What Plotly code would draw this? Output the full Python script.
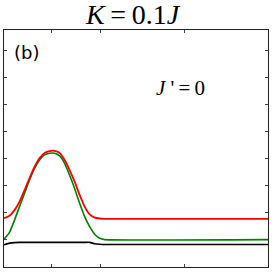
import plotly.graph_objects as go

# k-path coordinate (arbitrary units along the path)
k_path = [0, 5.5, 10.5, 15.5, 20.5, 25.5, 30.5, 35.5, 40.5, 45.5, 50.5, 55.5, 60.5, 65.5,
          70.5, 75.5, 80.5, 85.5, 90.5, 95.5, 100.5, 263.5]
red_vals = [1.80, 1.89, 2.10, 2.41, 2.84, 3.28, 3.70, 4.02, 4.21, 4.28, 4.29, 4.21, 3.95, 3.58,
            3.15, 2.66, 2.23, 1.94, 1.82, 1.79, 1.78, 1.78]
green_vals = [1.02, 1.28, 1.73, 2.23, 2.72, 3.21, 3.64, 3.95, 4.14, 4.20, 4.20, 4.10, 3.83, 3.39,
              2.90, 2.35, 1.86, 1.49, 1.21, 1.06, 1.01, 1.01]
black_vals = [0.82, 0.88, 0.90, 0.91, 0.91, 0.91, 0.91, 0.91, 0.91, 0.91, 0.91, 0.91, 0.91, 0.91,
              0.91, 0.91, 0.91, 0.91, 0.86, 0.84, 0.83, 0.83]

x_ticks = [47.5, 96.5, 180.5]
y_ticks = [1, 2, 3, 4, 5, 6, 7, 8]

title_text = "<i>K</i>\u2009=\u20090.1<i>J</i>"
panel_label = "(b)"
jprime_text = "<i>J</i> '\u2009=\u20090"

fig = go.Figure()
fig.add_trace(go.Scatter(x=k_path, y=black_vals, mode="lines", line=dict(color="black", width=1.6, shape="spline", smoothing=0.4)))
fig.add_trace(go.Scatter(x=k_path, y=green_vals, mode="lines", line=dict(color="#008000", width=1.6, shape="spline", smoothing=0.4)))
fig.add_trace(go.Scatter(x=k_path, y=red_vals, mode="lines", line=dict(color="#ff0000", width=1.8, shape="spline", smoothing=0.4)))

axis_common = dict(showgrid=False, zeroline=False, showline=True, linecolor="#222", linewidth=1,
                   mirror="allticks", ticks="inside", ticklen=3, tickcolor="#444", tickwidth=1,
                   showticklabels=False)

fig.update_layout(
    width=273, height=273,
    margin=dict(l=4, r=5, t=30, b=6),
    paper_bgcolor="white", plot_bgcolor="white",
    showlegend=False,
    xaxis=dict(range=[0, 263.5], tickvals=x_ticks, **axis_common),
    yaxis=dict(range=[0, 8.75], tickvals=y_ticks, **axis_common),
    annotations=[
        dict(text=title_text, xref="paper", yref="paper", x=0.49, y=1.066, xanchor="center", yanchor="middle",
             showarrow=False, font=dict(family="Liberation Serif", size=28, color="black")),
        dict(text=panel_label, xref="paper", yref="paper", x=0.03, y=0.905, xanchor="left", yanchor="middle",
             showarrow=False, font=dict(family="DejaVu Sans", size=18, color="black")),
        dict(text=jprime_text, xref="paper", yref="paper", x=0.67, y=0.755, xanchor="center", yanchor="middle",
             showarrow=False, font=dict(family="Liberation Serif", size=21, color="black")),
    ],
)

fig.write_html("out.html", config={"displayModeBar": False},
               post_script="document.body.style.margin='0';document.body.style.overflow='hidden';")
